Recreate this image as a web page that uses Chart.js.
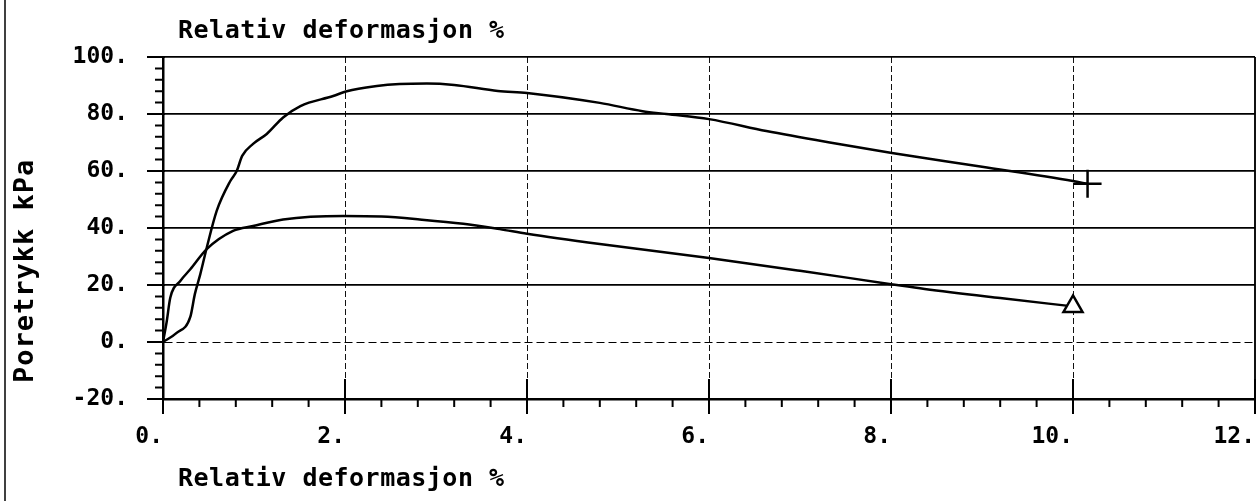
<!DOCTYPE html>
<html>
<head>
<meta charset="utf-8">
<script src="https://cdn.jsdelivr.net/npm/chart.js@4.4.0/dist/chart.umd.min.js"></script>
<style>
body { margin: 0; background: #fff; }
#wrap { width: 1260px; height: 501px; }
</style>
</head>
<body>
<div id="wrap"><canvas id="poreChart" width="1260" height="501"></canvas></div>
<script>
// upper curve (ends with + marker)
var upperX = [0, 0.15, 0.3, 0.35, 0.41, 0.48, 0.59, 0.74, 0.81, 0.87, 0.99, 1.14, 1.32, 1.51, 1.87, 2.02, 2.35, 2.6, 2.9, 3.2, 3.68, 4.0, 4.8, 5.27, 5.53, 6.0, 6.63, 7.36, 8.01, 9.0, 10.0, 10.16];
var upperY = [0, 3.2, 8.8, 16.8, 23.8, 33, 46, 56.5, 60, 65.3, 69.5, 73, 78.8, 82.8, 86.3, 88, 89.8, 90.5, 90.7, 90.2, 88.1, 87.4, 83.9, 81, 80, 78.2, 74, 69.8, 66.3, 61.5, 56.5, 55.5];
// lower curve (ends with triangle marker)
var lowerX = [0, 0.04, 0.08, 0.19, 0.3, 0.48, 0.77, 0.99, 1.32, 1.98, 2.4, 2.82, 3.3, 3.7, 4.0, 4.8, 6.0, 7.0, 8.0, 8.37, 9.2, 10.0];
var lowerY = [0, 7, 15.5, 21.4, 25.5, 32.6, 39, 40.7, 43, 44.2, 44, 43, 41.5, 39.6, 38, 34.4, 29.5, 25, 20.3, 18.6, 15.4, 12.5];

var xTickLabels = ['0.', '2.', '4.', '6.', '8.', '10.', '12.'];
var yTickLabels = ['-20.', '0.', '20.', '40.', '60.', '80.', '100.'];
var topTitle = 'Relativ deformasjon %';
var xTitle = 'Relativ deformasjon %';
var yTitle = 'Poretrykk kPa';

var FONT = '"DejaVu Sans Mono", monospace';

function toPoints(xs, ys) {
    var pts = [];
    for (var i = 0; i < xs.length; i++) pts.push({x: xs[i], y: ys[i]});
    return pts;
}

function lastOnly(r) {
    return function(ctx) {
        return ctx.dataIndex === ctx.dataset.data.length - 1 ? r : 0;
    };
}

// plotter style ticks, texts and the left rule
var plotterDecor = {
    id: 'plotterDecor',
    afterDraw: function(chart) {
        var c = chart.ctx, a = chart.chartArea;
        var xs = chart.scales.x, ys = chart.scales.y;
        c.save();
        c.strokeStyle = '#000';
        c.lineWidth = 2;
        c.beginPath();
        for (var i = 0; i <= 30; i++) {
            var px = xs.getPixelForValue(i * 0.4);
            if (i % 5 === 0) { c.moveTo(px, a.bottom - 20); c.lineTo(px, a.bottom + 15); }
            else { c.moveTo(px, a.bottom); c.lineTo(px, a.bottom + 8); }
        }
        for (var j = 0; j <= 30; j++) {
            var py = ys.getPixelForValue(-20 + j * 4);
            if (j % 5 === 0) { c.moveTo(a.left - 16, py); c.lineTo(a.left + 2, py); }
            else { c.moveTo(a.left - 8, py); c.lineTo(a.left, py); }
        }
        c.stroke();

        // left rule of the sheet
        c.lineWidth = 1.5;
        c.beginPath();
        c.moveTo(5, 0); c.lineTo(5, chart.height);
        c.stroke();

        c.fillStyle = '#000';
        c.textAlign = 'left';
        c.textBaseline = 'alphabetic';
        c.font = 'bold 25px ' + FONT;
        c.letterSpacing = '0.5px';
        c.fillText(topTitle, a.left + 15, 38);
        c.fillText(xTitle, a.left + 15, 486);
        c.font = 'bold 27px ' + FONT;
        c.letterSpacing = '1px';
        c.translate(33, a.bottom - 16);
        c.rotate(-Math.PI / 2);
        c.fillText(yTitle, 0, 0);
        c.restore();
    }
};

var chart = new Chart(document.getElementById('poreChart'), {
    type: 'scatter',
    data: {
        datasets: [{
            data: toPoints(upperX, upperY),
            showLine: true,
            borderColor: '#000',
            borderWidth: 2.5,
            cubicInterpolationMode: 'monotone',
            pointStyle: 'cross',
            pointRadius: lastOnly(14),
            pointBorderColor: '#000',
            pointBorderWidth: 2.5,
            pointHoverRadius: 0
        }, {
            data: toPoints(lowerX, lowerY),
            showLine: true,
            borderColor: '#000',
            borderWidth: 2.5,
            cubicInterpolationMode: 'monotone',
            pointStyle: 'triangle',
            pointRadius: lastOnly(11),
            pointBackgroundColor: '#fff',
            pointBorderColor: '#000',
            pointBorderWidth: 2.5,
            pointHoverRadius: 0
        }]
    },
    options: {
        responsive: false,
        animation: false,
        layout: {
            autoPadding: false,
            padding: {top: 57, right: 5, bottom: 0, left: 0}
        },
        scales: {
            x: {
                type: 'linear',
                min: 0,
                max: 12,
                afterFit: function(s) { s.height = 102; s.paddingLeft = 0; s.paddingRight = 0; },
                ticks: {
                    stepSize: 2,
                    align: 'end',
                    padding: 24,
                    color: '#000',
                    font: {family: FONT, size: 23, weight: 'bold'},
                    callback: function(v, i) { return xTickLabels[i]; }
                },
                grid: {
                    drawTicks: false,
                    color: '#111',
                    lineWidth: function(ctx) { return ctx.tick && ctx.tick.value === 12 ? 2 : 1; }
                },
                border: {
                    color: '#000',
                    width: 2.5,
                    dash: function(ctx) { return ctx.tick && ctx.tick.value === 12 ? [] : [6, 3]; }
                }
            },
            y: {
                min: -20,
                max: 100,
                afterFit: function(s) { s.width = 163; s.paddingTop = 0; s.paddingBottom = 0; },
                ticks: {
                    stepSize: 20,
                    padding: 35,
                    color: '#000',
                    font: {family: FONT, size: 23, weight: 'bold'},
                    callback: function(v, i) { return yTickLabels[i]; }
                },
                grid: {
                    drawTicks: false,
                    color: '#000',
                    lineWidth: function(ctx) { return ctx.tick && ctx.tick.value === 0 ? 1 : 1.8; }
                },
                border: {
                    color: '#000',
                    width: 2.5,
                    dash: function(ctx) { return ctx.tick && ctx.tick.value === 0 ? [8, 4] : []; }
                }
            }
        },
        plugins: {
            legend: {display: false},
            tooltip: {enabled: false}
        }
    },
    plugins: [plotterDecor]
});
</script>
</body>
</html>
